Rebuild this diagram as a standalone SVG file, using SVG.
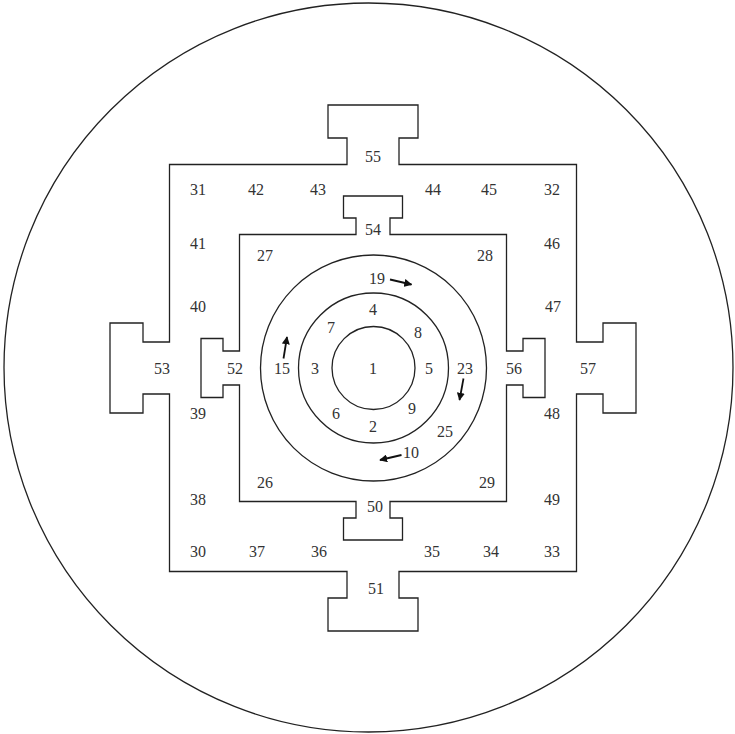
<svg xmlns="http://www.w3.org/2000/svg" width="735" height="734" viewBox="0 0 735 734">
<style>
.ln{fill:none;stroke:#222;stroke-width:1.3}
.t{font-family:"Liberation Serif","Times New Roman",serif;font-size:16px;fill:#333;text-anchor:middle}
.ar{fill:none;stroke:#111;stroke-width:1.8}
</style>
<defs>
<marker id="ah" viewBox="0 0 10 10" refX="9" refY="5" markerWidth="8" markerHeight="8" markerUnits="userSpaceOnUse" orient="auto">
<path d="M0,0 L10,5 L0,10 Z" fill="#111"/>
</marker>
</defs>
<rect width="735" height="734" fill="#fff"/>
<g id="outer-circle"><circle class="ln" cx="368.5" cy="367.5" r="364.5"/></g>
<g id="outer-square">
<path class="ln" d="M169.5,164.5 H347 V138 H328 V105 H418 V138 H399 V164.5 H576.5 V342 H603 V323 H636 V413 H603 V394 H576.5 V571.5 H399 V598 H418 V631 H328 V598 H347 V571.5 H169.5 V394 H143 V413 H110 V323 H143 V342 H169.5 Z"/>
</g>
<g id="inner-square">
<path class="ln" d="M239.5,234.5 H356 V218 H343.5 V196 H402.5 V218 H390 V234.5 H506.5 V351 H523 V338.5 H545 V397.5 H523 V385 H506.5 V501.5 H390 V518 H402.5 V540 H343.5 V518 H356 V501.5 H239.5 V385 H223 V397.5 H201 V338.5 H223 V351 H239.5 Z"/>
</g>
<g id="rings">
<circle class="ln" cx="373.5" cy="368" r="113"/>
<circle class="ln" cx="373.5" cy="368" r="75"/>
<circle class="ln" cx="373.5" cy="368" r="41.5"/>
</g>
<g id="labels">
<text class="t" x="373" y="162">55</text>
<text class="t" x="198" y="195">31</text>
<text class="t" x="256" y="195">42</text>
<text class="t" x="318" y="195">43</text>
<text class="t" x="433" y="195">44</text>
<text class="t" x="489" y="195">45</text>
<text class="t" x="552" y="195">32</text>
<text class="t" x="373" y="235">54</text>
<text class="t" x="198" y="249">41</text>
<text class="t" x="552" y="249">46</text>
<text class="t" x="265" y="261">27</text>
<text class="t" x="485" y="261">28</text>
<text class="t" x="198" y="312">40</text>
<text class="t" x="553" y="312">47</text>
<text class="t" x="162" y="374">53</text>
<text class="t" x="235" y="374">52</text>
<text class="t" x="514" y="374">56</text>
<text class="t" x="588" y="374">57</text>
<text class="t" x="198" y="419">39</text>
<text class="t" x="552" y="419">48</text>
<text class="t" x="265" y="488">26</text>
<text class="t" x="487" y="488">29</text>
<text class="t" x="198" y="505">38</text>
<text class="t" x="552" y="505">49</text>
<text class="t" x="375" y="512">50</text>
<text class="t" x="198" y="557">30</text>
<text class="t" x="257" y="557">37</text>
<text class="t" x="319" y="557">36</text>
<text class="t" x="432" y="557">35</text>
<text class="t" x="491" y="557">34</text>
<text class="t" x="552" y="557">33</text>
<text class="t" x="376" y="594">51</text>
<text class="t" x="377" y="284">19</text>
<text class="t" x="373" y="315">4</text>
<text class="t" x="331" y="333">7</text>
<text class="t" x="418" y="338">8</text>
<text class="t" x="282" y="374">15</text>
<text class="t" x="315" y="374">3</text>
<text class="t" x="373" y="374">1</text>
<text class="t" x="429" y="374">5</text>
<text class="t" x="465" y="374">23</text>
<text class="t" x="336" y="419">6</text>
<text class="t" x="412" y="414">9</text>
<text class="t" x="373" y="432">2</text>
<text class="t" x="445" y="437">25</text>
<text class="t" x="411" y="458">10</text>
</g>
<g id="connectors">
<line class="ar" x1="390" y1="279.5" x2="411.5" y2="284.5" marker-end="url(#ah)"/>
<line class="ar" x1="283.5" y1="358.5" x2="287" y2="337" marker-end="url(#ah)"/>
<line class="ar" x1="463.5" y1="378.5" x2="459.5" y2="400" marker-end="url(#ah)"/>
<line class="ar" x1="401.5" y1="455" x2="380" y2="460" marker-end="url(#ah)"/>
</g>
</svg>
